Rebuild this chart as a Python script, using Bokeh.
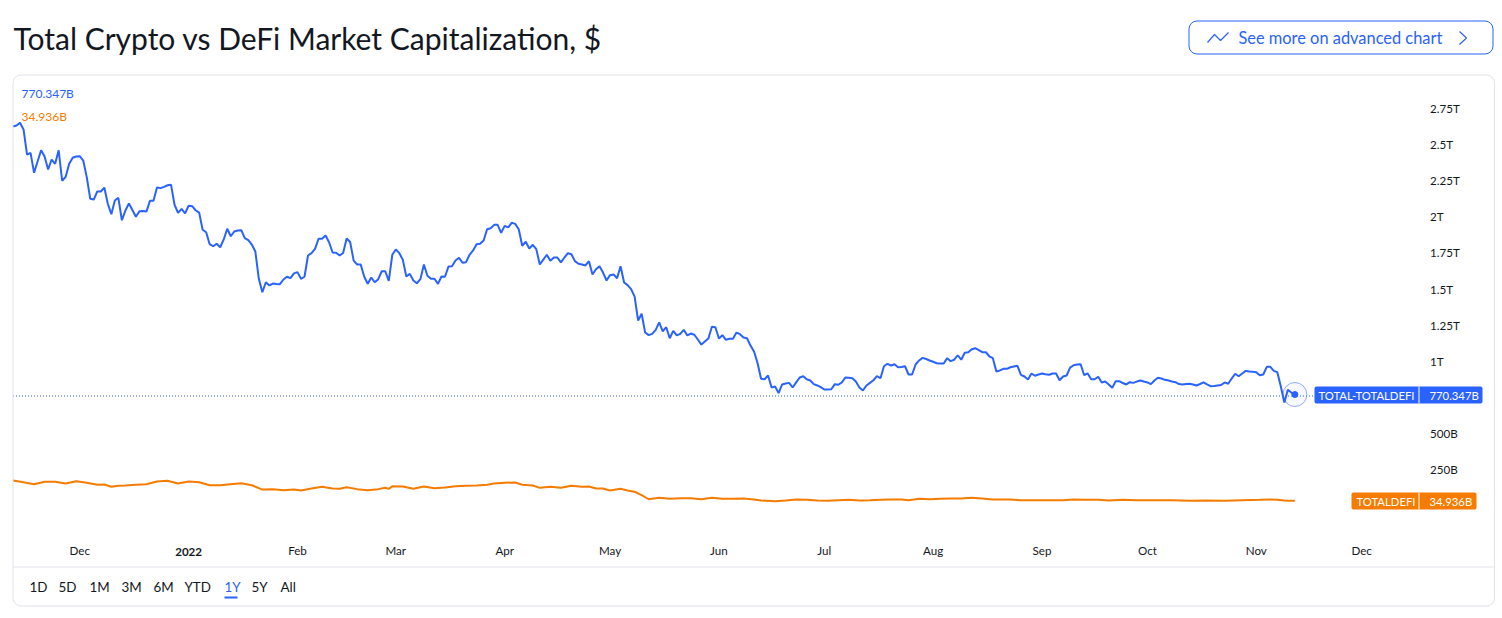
import pandas as pd
from bokeh.plotting import figure
from bokeh.models import (Range1d, FixedTicker, Label, BoxAnnotation, PolyAnnotation)
from bokeh.embed import file_html
from bokeh.resources import INLINE

TITLE = "Total Crypto vs DeFi Market Capitalization, $"
BUTTON = "See more on advanced chart"
START = "2021-11-12"
SERIES_A = "TOTAL-TOTALDEFI"
SERIES_B = "TOTALDEFI"
LAST_A = "770.347B"
LAST_B = "34.936B"

# TOTAL-TOTALDEFI, daily close, in $ billions
total_ex_defi = [
    2624,2631,2650,2604,2429,2442,2304,2382,2460,2417,
    2327,2396,2366,2460,2249,2276,2366,2408,2417,2419,
    2389,2274,2124,2119,2175,2175,2202,2090,2018,2112,
    2131,1976,2043,2092,2047,2000,2038,2040,2036,2110,
    2110,2202,2198,2207,2218,2221,2083,2027,2055,2023,
    2076,2073,2045,2029,1910,1893,1810,1796,1813,1789,
    1843,1917,1865,1898,1905,1907,1852,1838,1808,1760,
    1571,1478,1547,1525,1538,1535,1534,1566,1585,1575,
    1608,1617,1571,1585,1732,1748,1778,1848,1848,1870,
    1824,1753,1751,1732,1749,1850,1825,1697,1670,1670,
    1587,1536,1580,1547,1568,1623,1623,1557,1737,1774,
    1748,1702,1587,1605,1559,1540,1568,1670,1592,1571,
    1571,1536,1587,1585,1656,1658,1697,1716,1682,1686,
    1737,1767,1810,1813,1836,1914,1921,1944,1944,1889,
    1937,1926,1958,1951,1914,1799,1827,1780,1806,1776,
    1670,1704,1737,1695,1718,1718,1684,1718,1748,1741,
    1693,1675,1670,1663,1693,1601,1637,1658,1614,1559,
    1596,1601,1575,1658,1545,1527,1499,1448,1282,1329,
    1199,1181,1190,1218,1269,1208,1236,1160,1211,1179,
    1190,1218,1179,1192,1184,1151,1116,1137,1158,1239,
    1236,1158,1181,1149,1156,1156,1199,1188,1165,1160,
    1109,1068,988,879,876,902,819,826,780,840,
    847,851,819,854,888,897,876,867,842,833,
    821,805,805,807,842,838,854,888,886,883,
    860,819,798,833,851,869,897,883,966,983,
    971,980,959,961,966,909,909,978,1006,1024,
    1016,1006,997,987,985,985,1022,1001,1011,1042,
    1011,1059,1063,1084,1091,1078,1063,1063,1035,1022,
    930,937,948,948,959,964,969,907,895,874,
    916,900,909,916,911,907,916,916,869,895,
    902,957,973,978,980,904,916,876,876,893,
    854,860,840,817,863,863,850,840,856,851,
    860,867,860,854,842,867,886,881,872,867,
    860,856,843,840,843,845,840,833,843,854,
    840,828,829,833,836,854,845,881,914,897,
    916,934,930,928,925,904,909,962,962,934,
    925,826,715,803,784,770.347,
]

# TOTALDEFI readings: days since START and value in $ billions
defi_days = [
    0,3,6,9,12,15,18,21,24,26,28,30,32,35,38,41,44,47,50,53,56,59,62,65,68,71,74,77,80,82,85,88,91,
    93,95,98,101,104,106,107,108,111,114,117,120,123,126,129,132,135,137,140,143,145,148,150,153,156,
    159,162,164,166,168,170,173,175,177,179,181,184,187,190,193,196,199,202,205,208,211,213,217,220,
    223,226,229,232,235,238,241,244,247,250,253,255,258,261,264,267,270,273,276,279,282,284,287,293,
    299,302,305,309,312,316,320,325,330,335,340,345,350,355,358,360,362,363,365,
]
defi_values = [
    176,164,150,167,167,155,171,160,146,148,132,139,141,146,150,169,174,155,169,164,143,143,150,157,143,113,116,109,113,107,120,132,120,
    118,129,116,109,116,125,118,136,134,118,134,122,127,136,139,141,146,155,160,162,146,141,125,132,125,
    139,132,134,120,120,107,118,107,98,74,46,56,49,53,53,46,56,49,49,51,44,37,33,37,
    44,42,37,35,39,42,37,39,42,44,44,39,49,46,49,51,51,56,51,44,44,44,39,39,
    39,44,42,42,37,42,39,39,39,35,37,35,39,42,44,42,37,36,34.936,
]

ytick_values = [250, 500, 1000, 1250, 1500, 1750, 2000, 2250, 2500, 2750]
ytick_labels = ["250B", "500B", "1T", "1.25T", "1.5T", "1.75T", "2T", "2.25T", "2.5T", "2.75T"]
month_dates = ["2021-12-01", "2022-02-01", "2022-03-01", "2022-04-01", "2022-05-01", "2022-06-01",
               "2022-07-01", "2022-08-01", "2022-09-01", "2022-10-01", "2022-11-01", "2022-12-01"]
month_labels = ["Dec", "Feb", "Mar", "Apr", "May", "Jun", "Jul", "Aug", "Sep", "Oct", "Nov", "Dec"]
year_date = "2022-01-01"
year_label = "2022"
range_labels = ["1D", "5D", "1M", "3M", "6M", "YTD", "1Y", "5Y", "All"]
active_range = "1Y"

BLUE = "#2962ff"
ORANGE = "#f57c00"
INK = "#131722"
RULE = "#e0e3eb"
FONT = "Lato"

# layout, in page pixels: the frame fills the canvas
W, H = 1500, 612
PX_PER_DAY = 3.512
B_PER_PX = 6.917
ZERO_PY = 505.4
LEFT_PY = 12.5


def sx(px):
    return px - 1


def sy(py):
    return H - py + 1


def ms(d):
    return int(pd.Timestamp(d).timestamp() * 1000)


x0 = pd.Timestamp(START)


def px_date(px):
    return x0 + pd.Timedelta(days=(px - LEFT_PY) / PX_PER_DAY)


def py_value(py):
    return (ZERO_PY - py) * B_PER_PX


dates = pd.date_range(START, periods=len(total_ex_defi), freq="D")
defi_dates = x0 + pd.to_timedelta(defi_days, unit="D")

p = figure(
    width=W, height=H, output_backend="svg", toolbar_location=None,
    x_axis_type="datetime", x_axis_location="below", y_axis_location="right",
    x_range=Range1d(px_date(0), px_date(W)), y_range=Range1d(py_value(H), py_value(0)),
    min_border_left=0, min_border_right=0, min_border_top=0, min_border_bottom=0,
    outline_line_color=None,
)
p.grid.visible = False

for ax in (p.xaxis[0], p.yaxis[0]):
    ax.axis_line_color = None
    ax.major_tick_line_color = None
    ax.minor_tick_line_color = None
    ax.major_tick_out = 0
    ax.major_tick_in = 0
    ax.minor_tick_out = 0
    ax.minor_tick_in = 0
    ax.major_label_text_font = FONT
    ax.major_label_text_font_size = "11.6px"
    ax.major_label_text_color = INK

p.yaxis[0].ticker = FixedTicker(ticks=ytick_values)
p.yaxis[0].major_label_overrides = dict(zip(ytick_values, ytick_labels))
p.yaxis[0].major_label_standoff = 12
p.yaxis[0].fixed_location = ms(px_date(1417.5))

p.xaxis[0].ticker = FixedTicker(ticks=[ms(d) for d in month_dates])
p.xaxis[0].major_label_overrides = {ms(d): t for d, t in zip(month_dates, month_labels)}
p.xaxis[0].major_label_standoff = 2
p.xaxis[0].fixed_location = py_value(541)


def box(l, r, t, b, fill=None, line=None, radius=0):
    b_ = BoxAnnotation(left=sx(l), right=sx(r), top=sy(t), bottom=sy(b),
                       left_units="screen", right_units="screen", top_units="screen", bottom_units="screen",
                       fill_color=fill, fill_alpha=1 if fill else 0,
                       line_color=line, line_alpha=1 if line else 0, line_width=1,
                       border_radius=radius, editable=False)
    p.add_layout(b_)
    return b_


def text(px, py, s, color=INK, size=12, align="left", style="normal"):
    p.add_layout(Label(x=sx(px), y=sy(py), x_units="screen", y_units="screen", text=s,
                       text_color=color, text_font=FONT, text_font_size=f"{size}px",
                       text_align=align, text_baseline="middle", text_font_style=style))


# chart card
box(13.5, 1495, 75.5, 606.5, line=RULE, radius=8)
box(14, 1494, 567, 568, fill=RULE)

# last price line
p.line([dates[0], px_date(1320)], [py_value(395.5), py_value(395.5)],
       line_color=BLUE, line_width=1, line_dash=[1, 2])

# series
p.line(dates, total_ex_defi, line_color=BLUE, line_width=2)
p.line(defi_dates, defi_values, line_color=ORANGE, line_width=2)

# pulse on the last point
p.scatter([dates[-1]], [total_ex_defi[-1]], size=24, fill_color=BLUE, fill_alpha=0.04,
          line_color=BLUE, line_alpha=0.5, line_width=1)
p.scatter([dates[-1]], [total_ex_defi[-1]], size=6, fill_color=BLUE, line_color=BLUE)

# tags
box(1315, 1483, 387, 404, fill=BLUE, radius=2)
box(1419, 1420, 387, 404, fill="#ffffff")
text(1319, 395.5, SERIES_A, color="#ffffff", size=11.3)
text(1430, 395.5, LAST_A, color="#ffffff", size=11.3)
box(1352, 1477, 493, 510, fill=ORANGE, radius=2)
box(1419, 1420, 493, 510, fill="#ffffff")
text(1357, 501.5, SERIES_B, color="#ffffff", size=11.3)
text(1430, 501.5, LAST_B, color="#ffffff", size=11.3)

# legend values
text(22, 94, LAST_A, color=BLUE, size=12)
text(22, 117, LAST_B, color=ORANGE, size=12)

# year tick in bold
p.add_layout(Label(x=pd.Timestamp(year_date), y=sy(552), y_units="screen", text=year_label,
                   text_color=INK, text_font=FONT, text_font_size="11.6px", text_font_style="bold",
                   text_align="center", text_baseline="middle"))

# title
text(14, 38, TITLE, size=30)

# button
box(1189.5, 1493.5, 21.5, 54.5, line=BLUE, radius=8)
text(1239, 38, BUTTON, color=BLUE, size=16.4)
for pts in ([(1208, 43), (1215, 35), (1221, 41), (1229, 33)], [(1460, 32), (1467, 38.5), (1460, 45)]):
    xs = [sx(a) for a, _ in pts] + [sx(a) for a, _ in reversed(pts)]
    ys = [sy(b) for _, b in pts] + [sy(b) for _, b in reversed(pts)]
    p.add_layout(PolyAnnotation(xs=xs, ys=ys, xs_units="screen", ys_units="screen",
                                fill_alpha=0, line_color=BLUE, line_alpha=1, line_width=1.2,
                                editable=False))

# range selector
range_x = [30, 59, 90, 122, 154, 185, 225, 252, 281]
for xp, lab in zip(range_x, range_labels):
    text(xp, 587, lab, color=BLUE if lab == active_range else INK, size=13.4)
box(225, 238, 597, 599, fill=BLUE)

open("out.html", "w").write(file_html(p, INLINE))
